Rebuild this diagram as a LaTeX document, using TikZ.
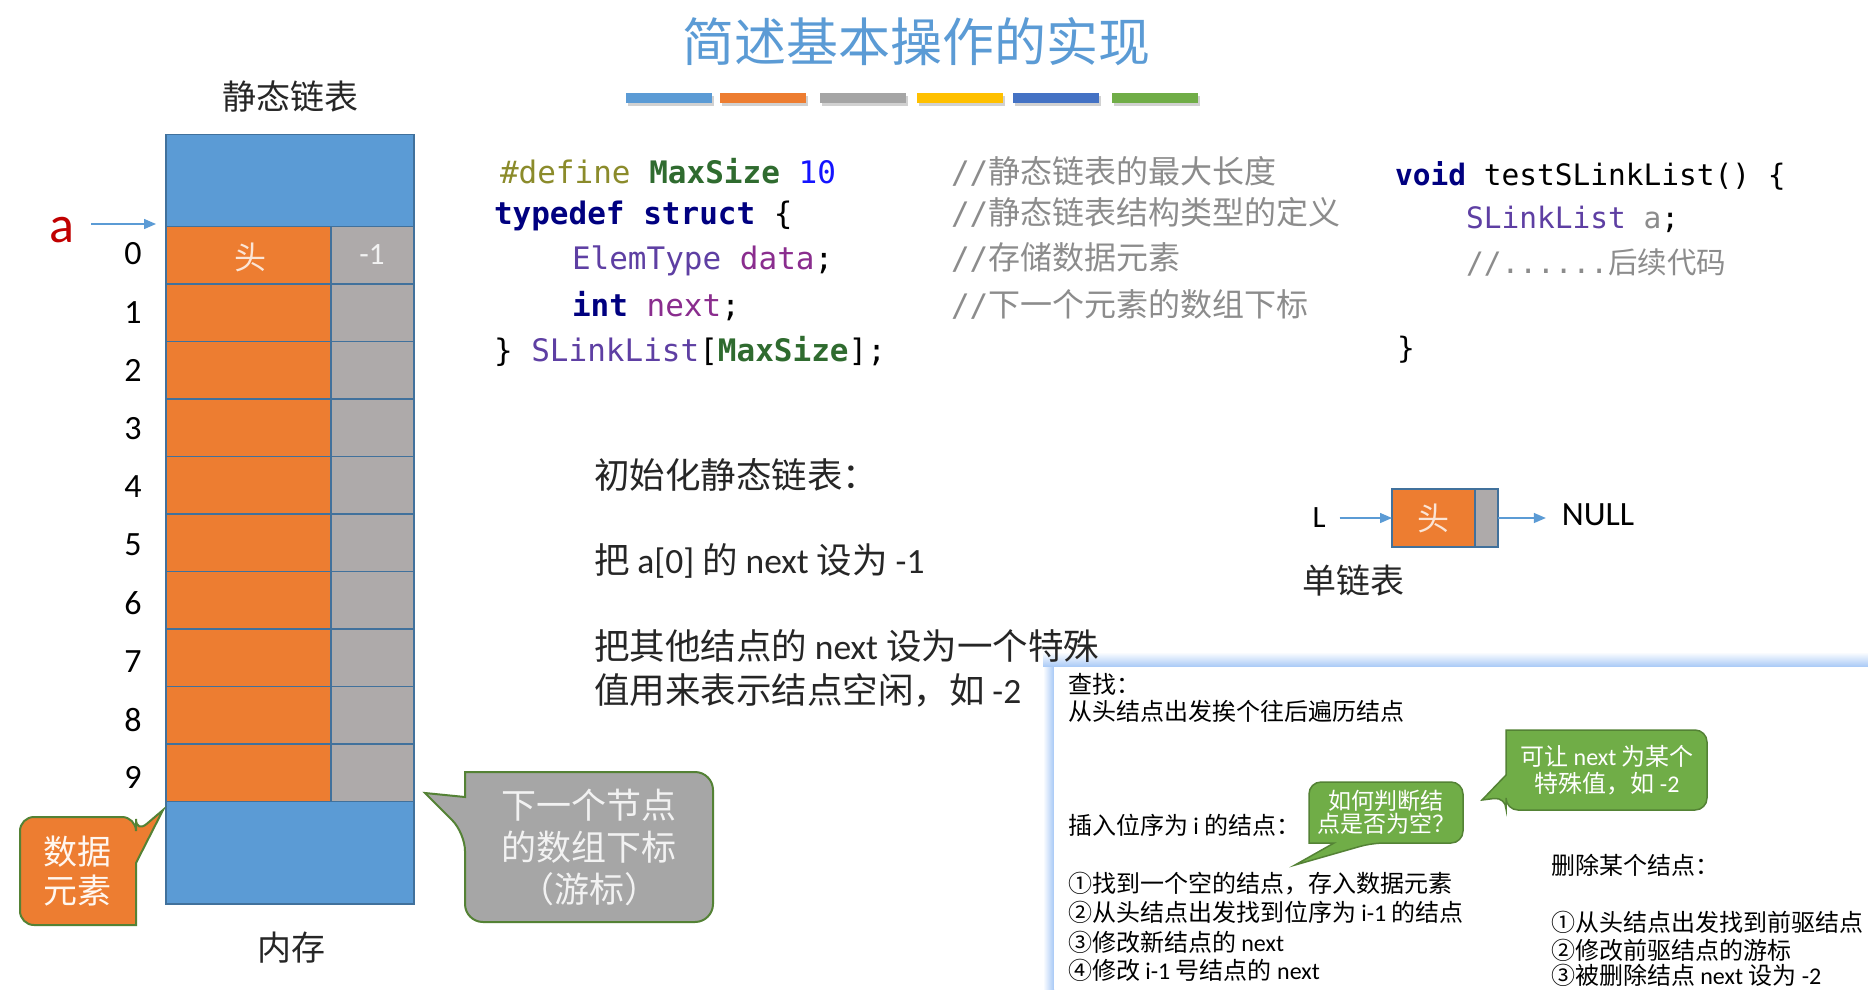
\documentclass[tikz,border=0pt]{standalone}
\usepackage{fontspec}
\setmainfont{Carlito}
\newfontfamily\cjk{Noto Sans CJK SC}
\newfontfamily\mono{DejaVu Sans Mono}
\usetikzlibrary{arrows.meta}
\newcommand\E[1]{{\rmfamily #1}}
\newcommand\fsz[1]{\fontsize{#1}{#1}\selectfont}
\definecolor{cblue}{HTML}{5B9BD5}
\definecolor{corg}{HTML}{ED7D31}
\definecolor{cgry}{HTML}{AEAAAA}
\definecolor{cbord}{HTML}{41719C}
\definecolor{cgrn}{HTML}{70AD47}
\definecolor{cgrnb}{HTML}{548235}
\definecolor{ccall}{HTML}{A6A6A6}
\definecolor{cbar3}{HTML}{A5A5A5}
\definecolor{cyel}{HTML}{FFC000}
\definecolor{cdblue}{HTML}{4472C4}
\definecolor{cred}{HTML}{C00000}
\definecolor{ctext}{HTML}{262626}
\definecolor{cpanel}{HTML}{A6C8F6}
\definecolor{kdef}{HTML}{8B8B2B}
\definecolor{kgrn}{HTML}{2F6B2F}
\definecolor{kblu}{HTML}{1414FF}
\definecolor{knavy}{HTML}{000080}
\definecolor{kpur}{HTML}{5E3FA3}
\definecolor{kmag}{HTML}{8A2D8E}
\definecolor{kcom}{HTML}{8C8C8C}
\definecolor{clight}{HTML}{FBE5D6}
\tikzset{
  cellbox/.style={draw=cbord, line width=1.5pt, anchor=north west, minimum height=57.5pt},
  orangecell/.style={cellbox, fill=corg, minimum width=165pt},
  graycell/.style={cellbox, fill=cgry, minimum width=83pt},
  bluecell/.style={cellbox, fill=cblue, minimum width=248pt},
  idx/.style={font=\fsz{34}, text=black},
  ptr/.style={draw=cblue, line width=1.4pt, -{Triangle[length=12pt,width=10pt]}},
  code1/.style={anchor=base west, font=\mono\fsz{31}, text=black},
  code2/.style={anchor=base west, font=\mono\fsz{29.5}, text=black},
  cmt/.style={anchor=base west, font=\mono\fsz{31}, text=kcom},
  mid/.style={anchor=base west, font=\cjk\fsz{35.5}, text=ctext},
  pan/.style={anchor=base west, font=\cjk\fsz{24}, text=black},
  lbl/.style={font=\cjk\fsz{34}, text=ctext},
  callgreen/.style={draw=cgrnb, line width=1.5pt, fill=cgrn},
  callother/.style={draw=cgrnb, line width=2pt},
}
\begin{document}
\begin{tikzpicture}[x=1pt,y=-1pt, every node/.style={inner sep=0pt, outer sep=0pt}]
\useasboundingbox (0,0) rectangle (1868,989);
\fill[white] (0,0) rectangle (1868,989);

% panel (drawn first, lies behind the texts above it)
\shade[top color=white, bottom color=cpanel] (1043,652) rectangle (1868,667);
\shade[left color=white, right color=cpanel] (1043,667) rectangle (1054,989);
\fill[white] (1054,667) rectangle (1868,989);

% title and colour bars
\node[font=\cjk\fsz{52}, text=cblue] (title) at (916,42) {简述基本操作的实现};
\foreach \x/\c in {626/cblue, 720/corg, 820/cbar3, 917/cyel, 1013/cdblue, 1112/cgrn}{
  \fill[black, opacity=0.18] (\x+1.5,95.5) rectangle ++(86,10);
  \fill[\c] (\x,93) rectangle ++(86,9.5);
}

% static linked list table
\node[lbl] (hdr) at (290,97) {静态链表};
\node[bluecell, minimum height=92pt] (top) at (166,134.5) {};
\foreach \i in {0,...,9}{
  \pgfmathsetmacro\yy{226.5+57.5*\i}
  \node[orangecell] (o\i) at (166,\yy) {};
  \node[graycell] (g\i) at (331,\yy) {};
  \pgfmathsetmacro\ny{254+58.2*\i}
  \node[idx] (n\i) at (133,\ny) {\i};
}
\node[bluecell, minimum height=102.5pt] (bot) at (166,801.5) {};
\node[font=\cjk\fsz{32}, text=clight] (t0) at (250,257) {头};
\node[font=\fsz{31}, text=white!95!black] (m1) at (372,255) {-1};
\node[lbl] (mem) at (291,948) {内存};

\node[font=\fsz{52}, text=cred] (a) at (62,230) {a};
\draw[ptr] ([xshift=17pt,yshift=6pt]a.east) -- ([xshift=-10pt,yshift=2.5pt]top.south west);

% callouts next to the table
\path[callother, fill=corg] (20,870) [rounded corners=14pt] -- (20,817) -- (136,817) -- (136,833) [sharp corners] -- (163,810) -- (136,863) -- (136,925) [rounded corners=14pt] -- (20,925) -- cycle;
\node[font=\cjk\fontsize{34}{39}\selectfont, text=white!94!orange, align=center] (de) at (77,871) {数据\\元素};
\path[callother, fill=ccall] (589,772) [rounded corners=18pt] -- (713,772) -- (713,922) -- (465,922) -- (465,833) [sharp corners] -- (425,793) -- (465,797) -- (465,772) [rounded corners=18pt] -- cycle;
\node[font=\cjk\fontsize{35}{42}\selectfont, text=white!95!black, align=center] (nx) at (589,847) {下一个节点\\的数组下标\\（游标）};

% code, left
\node[code1] (c1) at (500,183) {{\color{kdef}\#define} {\bfseries\color{kgrn}MaxSize} {\color{kblu}10}};
\node[code1] (c2) at (494,224) {{\bfseries\color{knavy}typedef struct} \{};
\node[code1] (c3) at (572,269) {{\color{kpur}ElemType} {\color{kmag}data};};
\node[code1] (c4) at (572,316) {{\bfseries\color{knavy}int} {\color{kmag}next};};
\node[code1] (c5) at (494,361) {\} {\color{kpur}SLinkList}[{\bfseries\color{kgrn}MaxSize}];};
\node[cmt] (k1) at (951,183) {//{\cjk\fsz{32}静态链表的最大长度}};
\node[cmt] (k2) at (951,224) {//{\cjk\fsz{32}静态链表结构类型的定义}};
\node[cmt] (k3) at (951,269) {//{\cjk\fsz{32}存储数据元素}};
\node[cmt] (k4) at (951,316) {//{\cjk\fsz{32}下一个元素的数组下标}};

% code, right
\node[code2] (r1) at (1395,185) {{\bfseries\color{knavy}void} testSLinkList() \{};
\node[code2] (r2) at (1466,228) {{\color{kpur}SLinkList} {\color{kcom}a};};
\node[code2] (r3) at (1466,273) {{\color{kcom}//......{\cjk 后续代码}}};
\node[code2] (r4) at (1397,358) {\}};

% initialisation text
\node[mid] (i1) at (594,488) {初始化静态链表：};
\node[mid] (i2) at (594,573) {把 \E{a[0]} 的 \E{next} 设为 \E{-1}};
\node[mid] (i3) at (594,659) {把其他结点的 \E{next} 设为一个特殊};
\node[mid] (i4) at (594,703) {值用来表示结点空闲，如 \E{-2}};

% singly linked list
\node[font=\fsz{31}, text=black] (L) at (1319,518) {L};
\node[draw=cbord, line width=1.5pt, fill=corg, minimum width=83pt, minimum height=58pt, anchor=north west, font=\cjk\fsz{32}, text=clight] (hd) at (1392,489) {头};
\node[draw=cbord, line width=1.5pt, fill=cgry, minimum width=23pt, minimum height=58pt, anchor=north west] (hp) at (1475,489) {};
\node[font=\fsz{34}, text=black] (nul) at (1598,515) {NULL};
\coordinate (nw) at ([xshift=-16pt]nul.west);
\node[lbl] (sl) at (1353,580) {单链表};
\draw[ptr] ([xshift=14pt]L.east) -- (hd.west);
\draw[ptr] (hp.east) -- (hp.east -| nw);

% panel texts
\node[pan] (p1) at (1068,693) {查找：};
\node[pan] (p2) at (1068,720) {从头结点出发挨个往后遍历结点};
\node[pan] (p3) at (1068,834) {插入位序为 \E{i} 的结点：};
\node[pan] (p4) at (1068,892) {①找到一个空的结点，存入数据元素};
\node[pan] (p5) at (1068,921) {②从头结点出发找到位序为 \E{i-1} 的结点};
\node[pan] (p6) at (1068,951) {③修改新结点的 \E{next}};
\node[pan] (p7) at (1068,979) {④修改 \E{i-1} 号结点的 \E{next}};
\node[pan] (d1) at (1551,874) {删除某个结点：};
\node[pan] (d2) at (1551,931) {①从头结点出发找到前驱结点};
\node[pan] (d3) at (1551,959) {②修改前驱结点的游标};
\node[pan] (d4) at (1551,984) {③被删除结点 \E{next} 设为 \E{-2}};

% green callouts
\path[callgreen] (1386,782) [rounded corners=12pt] -- (1463,782) -- (1463,843) -- (1372,843) [sharp corners] -- (1295,865) -- (1334,843) -- (1309,843) [rounded corners=12pt] -- (1309,782) -- cycle;
\node[font=\cjk\fontsize{23}{23}\selectfont, text=white, align=center] (q1) at (1386,812) {如何判断结\\点是否为空？};
\path[callgreen] (1607,730) [rounded corners=12pt] -- (1707,730) -- (1707,810) -- (1506,810) -- (1506,797) [sharp corners] -- (1482,800) -- (1506,775) -- (1506,730) [rounded corners=12pt] -- cycle;
\node[font=\cjk\fontsize{24}{27}\selectfont, text=white, align=center] (q2) at (1607,770) {可让 \E{next} 为某个\\特殊值，如 \E{-2}};
\end{tikzpicture}
\end{document}
